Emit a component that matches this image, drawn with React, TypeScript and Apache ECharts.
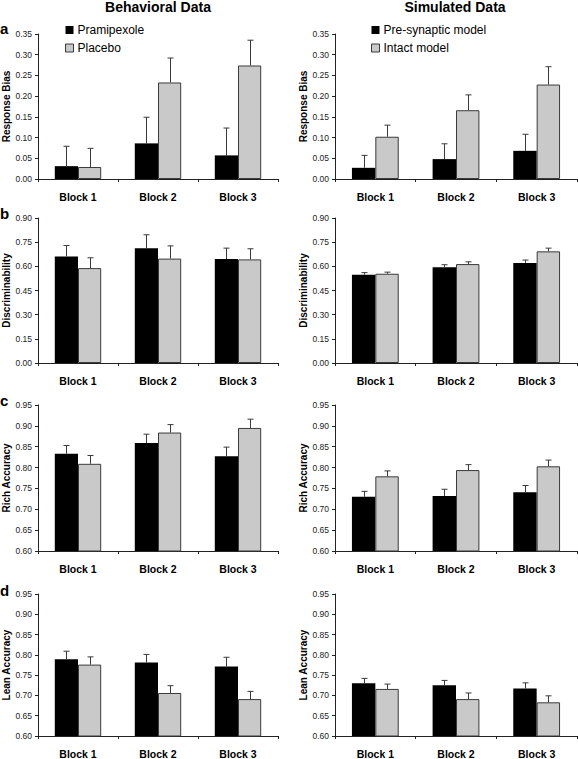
import React, { useEffect, useRef } from "react";
import * as echarts from "echarts";

// ---------- data ----------
const blocks = ["Block 1", "Block 2", "Block 3"];

// Behavioral data (left column)
const biasPrami = [0.031, 0.086, 0.057];
const biasPramiErr = [0.048, 0.063, 0.066];
const biasPlacebo = [0.029, 0.233, 0.274];
const biasPlaceboErr = [0.045, 0.059, 0.061];

const discPrami = [0.661, 0.713, 0.645];
const discPramiErr = [0.068, 0.083, 0.068];
const discPlacebo = [0.589, 0.648, 0.643];
const discPlaceboErr = [0.064, 0.079, 0.066];

const richPrami = [0.833, 0.859, 0.827];
const richPramiErr = [0.02, 0.021, 0.022];
const richPlacebo = [0.809, 0.884, 0.895];
const richPlaceboErr = [0.02, 0.019, 0.021];

const leanPrami = [0.789, 0.781, 0.771];
const leanPramiErr = [0.02, 0.02, 0.023];
const leanPlacebo = [0.776, 0.706, 0.691];
const leanPlaceboErr = [0.019, 0.018, 0.019];

// Simulated data (right column)
const biasPre = [0.027, 0.048, 0.068];
const biasPreErr = [0.03, 0.037, 0.04];
const biasIntact = [0.102, 0.166, 0.228];
const biasIntactErr = [0.028, 0.037, 0.043];

const discPre = [0.548, 0.594, 0.621];
const discPreErr = [0.013, 0.016, 0.018];
const discIntact = [0.554, 0.614, 0.693];
const discIntactErr = [0.01, 0.014, 0.02];

const richPre = [0.73, 0.732, 0.741];
const richPreErr = [0.013, 0.016, 0.016];
const richIntact = [0.779, 0.794, 0.803];
const richIntactErr = [0.013, 0.013, 0.015];

const leanPre = [0.73, 0.725, 0.717];
const leanPreErr = [0.012, 0.012, 0.014];
const leanIntact = [0.716, 0.691, 0.683];
const leanIntactErr = [0.012, 0.015, 0.016];

// axis scales
const biasScale = { min: 0, max: 0.35, interval: 0.05 };
const discScale = { min: 0, max: 0.9, interval: 0.15 };
const accScale = { min: 0.6, max: 0.95, interval: 0.05 };

const leftNames = ["Pramipexole", "Placebo"];
const rightNames = ["Pre-synaptic model", "Intact model"];
const columnTitles = ["Behavioral Data", "Simulated Data"];
const panelLetters = ["a", "b", "c", "d"];
const yNames = ["Response Bias", "Discriminability", "Rich Accuracy", "Lean Accuracy"];

// ---------- layout & style ----------
const FONT = "'Liberation Sans', Arial, Helvetica, sans-serif";
const BLACK = "#000000";
const GRAY = "#c9c9c9";
const EDGE = "#3a3a3a";
const GAP = 0.42;

const rowTops = [34, 218, 405, 594];
const rowHeights = [145, 145, 146, 146];
const colLefts = [38, 335];
const colWidths = [240, 242];

type Panel = {
  row: number;
  col: number;
  scale: { min: number; max: number; interval: number };
  a: number[];
  aErr: number[];
  b: number[];
  bErr: number[];
};

const panels: Panel[] = [
  { row: 0, col: 0, scale: biasScale, a: biasPrami, aErr: biasPramiErr, b: biasPlacebo, bErr: biasPlaceboErr },
  { row: 0, col: 1, scale: biasScale, a: biasPre, aErr: biasPreErr, b: biasIntact, bErr: biasIntactErr },
  { row: 1, col: 0, scale: discScale, a: discPrami, aErr: discPramiErr, b: discPlacebo, bErr: discPlaceboErr },
  { row: 1, col: 1, scale: discScale, a: discPre, aErr: discPreErr, b: discIntact, bErr: discIntactErr },
  { row: 2, col: 0, scale: accScale, a: richPrami, aErr: richPramiErr, b: richPlacebo, bErr: richPlaceboErr },
  { row: 2, col: 1, scale: accScale, a: richPre, aErr: richPreErr, b: richIntact, bErr: richIntactErr },
  { row: 3, col: 0, scale: accScale, a: leanPrami, aErr: leanPramiErr, b: leanPlacebo, bErr: leanPlaceboErr },
  { row: 3, col: 1, scale: accScale, a: leanPre, aErr: leanPreErr, b: leanIntact, bErr: leanIntactErr },
];

const makeErrRender = (sign: number) => (params: any, api: any) => {
  const cat = api.value(0);
  const v = api.value(1);
  const e = api.value(2);
  const base = api.coord([cat, v]);
  const top = api.coord([cat, v + e]);
  const catW = api.size([1, 0])[0];
  const barW = (catW * (1 - GAP)) / 2;
  const x = Math.round(base[0] + (sign * barW) / 2) + 0.5;
  const cap = 3;
  const style = { stroke: EDGE, lineWidth: 1 };
  return {
    type: "group",
    children: [
      { type: "line", shape: { x1: x, y1: base[1], x2: x, y2: top[1] }, style },
      { type: "line", shape: { x1: x - cap, y1: top[1], x2: x + cap, y2: top[1] }, style },
    ],
  };
};

function buildOption() {
  const grid: any[] = [];
  const xAxis: any[] = [];
  const yAxis: any[] = [];
  const series: any[] = [];

  panels.forEach((p, i) => {
    grid.push({
      left: colLefts[p.col],
      top: rowTops[p.row],
      width: colWidths[p.col],
      height: rowHeights[p.row],
      containLabel: false,
    });
    xAxis.push({
      type: "category",
      gridIndex: i,
      data: blocks,
      axisLine: { lineStyle: { color: "#222", width: 1 } },
      axisTick: { show: true, length: 3, interval: 0, lineStyle: { color: "#222" } },
      axisLabel: {
        interval: 0,
        margin: 12,
        fontFamily: FONT,
        fontSize: 10.5,
        fontWeight: "bold",
        color: "#000",
      },
      splitLine: { show: false },
    });
    yAxis.push({
      type: "value",
      gridIndex: i,
      min: p.scale.min,
      max: p.scale.max,
      interval: p.scale.interval,
      name: yNames[p.row],
      nameLocation: "middle",
      nameGap: 27,
      nameTextStyle: { fontFamily: FONT, fontSize: 10, fontWeight: "bold", color: "#000" },
      axisLine: { show: true, lineStyle: { color: "#222", width: 1 } },
      axisTick: { show: true, length: 3, lineStyle: { color: "#222" } },
      axisLabel: {
        margin: 6,
        fontFamily: FONT,
        fontSize: 8.5,
        color: "#222",
        formatter: (v: number) => v.toFixed(2),
      },
      splitLine: { show: false },
    });
    const names = p.col === 0 ? leftNames : rightNames;
    series.push({
      type: "bar",
      name: names[0],
      xAxisIndex: i,
      yAxisIndex: i,
      data: p.a,
      barGap: "0%",
      barCategoryGap: GAP * 100 + "%",
      itemStyle: { color: BLACK },
      z: 2,
    });
    series.push({
      type: "bar",
      name: names[1],
      xAxisIndex: i,
      yAxisIndex: i,
      data: p.b,
      barGap: "0%",
      barCategoryGap: GAP * 100 + "%",
      itemStyle: { color: GRAY, borderColor: EDGE, borderWidth: 1 },
      z: 2,
    });
    series.push({
      type: "custom",
      name: "err-a-" + i,
      xAxisIndex: i,
      yAxisIndex: i,
      renderItem: makeErrRender(-1),
      data: blocks.map((_, k) => [k, p.a[k], p.aErr[k]]),
      encode: { x: 0, y: 1 },
      z: 3,
    });
    series.push({
      type: "custom",
      name: "err-b-" + i,
      xAxisIndex: i,
      yAxisIndex: i,
      renderItem: makeErrRender(1),
      data: blocks.map((_, k) => [k, p.b[k], p.bErr[k]]),
      encode: { x: 0, y: 1 },
      z: 3,
    });
  });

  const legendBase = {
    orient: "vertical",
    top: 24,
    itemWidth: 8,
    itemHeight: 8,
    itemGap: 6,
    padding: 0,
    selectedMode: false,
    textStyle: { fontFamily: FONT, fontSize: 12, color: "#000", padding: [0, 0, 0, -1] },
  };

  const legend = [
    {
      ...legendBase,
      left: 65,
      data: [
        { name: leftNames[0], icon: "rect", itemStyle: { color: BLACK, borderWidth: 0 } },
        { name: leftNames[1], icon: "rect", itemStyle: { color: GRAY, borderColor: EDGE, borderWidth: 1 } },
      ],
    },
    {
      ...legendBase,
      left: 371,
      data: [
        { name: rightNames[0], icon: "rect", itemStyle: { color: BLACK, borderWidth: 0 } },
        { name: rightNames[1], icon: "rect", itemStyle: { color: GRAY, borderColor: EDGE, borderWidth: 1 } },
      ],
    },
  ];

  const titleX = [158, 455];
  const graphic: any[] = columnTitles.map((t, c) => ({
    type: "text",
    x: titleX[c],
    y: 7,
    style: {
      text: t,
      font: `bold 14px ${FONT}`,
      fill: "#000",
      textAlign: "center",
      align: "center",
      textVerticalAlign: "middle",
      verticalAlign: "middle",
    },
  }));
  const letterBaselines = [36, 221, 408, 598];
  panelLetters.forEach((l, r) => {
    graphic.push({
      type: "text",
      x: 0,
      y: letterBaselines[r],
      style: {
        text: l,
        font: `bold 15px ${FONT}`,
        fill: "#000",
        textAlign: "left",
        align: "left",
        textVerticalAlign: "bottom",
        verticalAlign: "bottom",
      },
    });
  });

  return {
    animation: false,
    backgroundColor: "#ffffff",
    textStyle: { fontFamily: FONT },
    grid,
    xAxis,
    yAxis,
    series,
    legend,
    graphic,
  };
}

export default function App() {
  const ref = useRef<HTMLDivElement>(null);
  useEffect(() => {
    document.body.style.margin = "0";
    if (!ref.current) return;
    const chart = echarts.init(ref.current, null, { renderer: "svg" });
    chart.setOption(buildOption() as any);
    return () => {
      chart.dispose();
    };
  }, []);
  return <div ref={ref} style={{ width: 578, height: 759 }} />;
}
